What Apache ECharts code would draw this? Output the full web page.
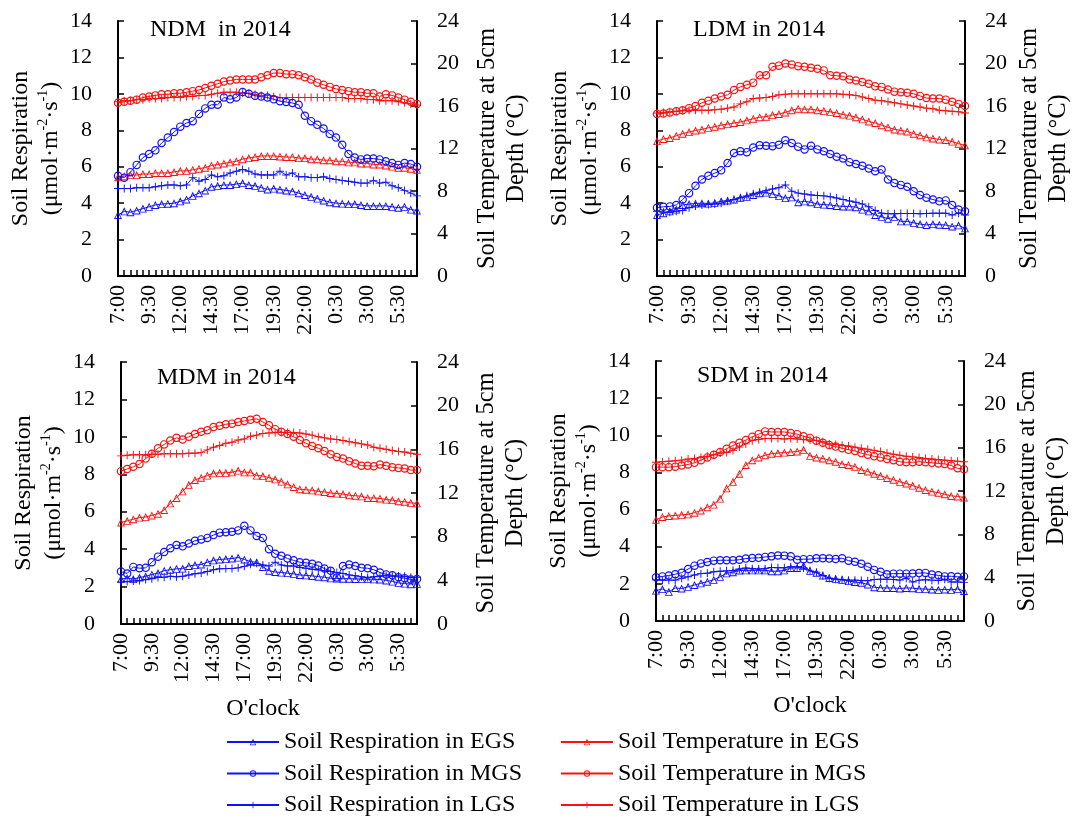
<!DOCTYPE html>
<html><head><meta charset="utf-8">
<script src="https://cdn.jsdelivr.net/npm/echarts@6/dist/echarts.min.js"></script>
<style>html,body{margin:0;padding:0;background:#fff}#c{width:1078px;height:819px}</style>
</head><body><div id="c"></div>
<script>
// ---- categories (half-hourly, 7:00 to 7:00 next day) ----
const times = ['7:00','7:30','8:00','8:30','9:00','9:30','10:00','10:30','11:00','11:30','12:00','12:30','13:00','13:30','14:00','14:30','15:00','15:30','16:00','16:30','17:00','17:30','18:00','18:30','19:00','19:30','20:00','20:30','21:00','21:30','22:00','22:30','23:00','23:30','0:00','0:30','1:00','1:30','2:00','2:30','3:00','3:30','4:00','4:30','5:00','5:30','6:00','6:30','7:00'];
const respTicks = [0,2,4,6,8,10,12,14];
const tempTicks = [0,4,8,12,16,20,24];
const panelTitles = ['NDM  in 2014','LDM in 2014','MDM in 2014','SDM in 2014'];
const seriesNames = ['Soil Respiration in EGS','Soil Respiration in MGS','Soil Respiration in LGS','Soil Temperature in EGS','Soil Temperature in MGS','Soil Temperature in LGS'];

// ---- NDM ----
const ndmRespEGS = [3.35,3.55,3.5,3.6,3.7,3.8,3.9,3.95,3.97,4.0,4.1,4.2,4.4,4.55,4.7,4.9,4.95,5.0,5.0,5.05,5.1,5.0,4.95,4.85,4.75,4.8,4.75,4.7,4.65,4.55,4.45,4.35,4.25,4.15,4.05,4.0,3.98,3.95,3.95,3.9,3.85,3.85,3.85,3.85,3.8,3.75,3.8,3.65,3.6];
const ndmRespMGS = [5.5,5.4,5.7,6.1,6.5,6.7,6.9,7.3,7.6,7.9,8.2,8.4,8.5,8.9,9.2,9.4,9.4,9.8,9.7,9.8,10.1,10.0,9.9,9.85,9.8,9.7,9.6,9.55,9.5,9.4,8.8,8.5,8.3,8.1,7.8,7.6,7.2,6.7,6.5,6.4,6.45,6.45,6.4,6.3,6.2,6.1,6.2,6.15,6.0];
const ndmRespLGS = [4.8,4.8,4.8,4.85,4.85,4.85,4.9,4.95,5.0,5.0,4.95,5.0,5.4,5.2,5.3,5.55,5.45,5.5,5.65,5.75,5.85,5.75,5.6,5.55,5.55,5.55,5.75,5.55,5.65,5.45,5.45,5.4,5.4,5.45,5.35,5.3,5.25,5.2,5.15,5.1,5.1,5.25,5.1,5.15,4.95,4.85,4.7,4.55,4.4];
const ndmTempEGS = [9.3,9.4,9.5,9.5,9.6,9.6,9.7,9.7,9.7,9.8,9.9,9.9,10.0,10.1,10.2,10.4,10.5,10.6,10.7,10.8,11.0,11.1,11.2,11.3,11.3,11.3,11.25,11.2,11.2,11.1,11.1,11.0,11.0,10.9,10.9,10.8,10.8,10.7,10.7,10.6,10.6,10.5,10.5,10.4,10.3,10.2,10.2,10.1,10.0];
const ndmTempMGS = [16.3,16.4,16.5,16.6,16.8,16.9,17.0,17.1,17.1,17.2,17.2,17.3,17.4,17.5,17.7,17.9,18.1,18.3,18.4,18.5,18.5,18.5,18.5,18.7,18.9,19.1,19.1,19.0,19.0,18.9,18.7,18.5,18.2,18.0,17.8,17.6,17.5,17.4,17.3,17.3,17.2,17.2,16.9,17.1,17.0,16.8,16.6,16.4,16.2];
const ndmTempLGS = [16.4,16.5,16.5,16.6,16.6,16.7,16.7,16.7,16.8,16.8,16.8,16.9,16.9,17.0,17.0,17.1,17.2,17.3,17.3,17.3,17.2,17.2,17.1,17.0,17.0,16.9,16.8,16.8,16.8,16.8,16.8,16.8,16.8,16.8,16.8,16.8,16.8,16.7,16.7,16.7,16.6,16.6,16.5,16.5,16.5,16.4,16.3,16.2,16.1];

// ---- LDM ----
const ldmRespEGS = [3.35,3.45,3.55,3.65,3.9,3.95,3.98,4.0,3.98,4.02,4.1,4.15,4.2,4.3,4.35,4.45,4.55,4.58,4.5,4.4,4.28,4.32,4.05,4.1,4.05,3.95,3.92,3.9,3.85,3.82,3.82,3.78,3.65,3.55,3.35,3.25,3.15,3.25,3.0,3.0,2.92,2.85,2.8,2.85,2.82,2.8,2.72,2.78,2.62];
const ldmRespMGS = [3.75,3.8,3.82,3.9,4.2,4.55,4.95,5.3,5.5,5.65,5.8,6.2,6.75,6.85,6.8,7.05,7.18,7.15,7.13,7.2,7.45,7.3,7.1,6.95,7.15,6.95,6.85,6.7,6.55,6.45,6.25,6.15,6.05,5.9,5.75,5.85,5.3,5.1,5.0,4.9,4.65,4.45,4.3,4.2,4.1,4.15,3.9,3.65,3.55];
const ldmRespLGS = [3.55,3.5,3.5,3.55,3.6,3.75,3.85,3.9,3.92,3.95,4.0,4.1,4.2,4.3,4.4,4.52,4.6,4.7,4.78,4.85,5.0,4.65,4.55,4.5,4.45,4.42,4.4,4.35,4.28,4.2,4.12,4.05,3.95,3.8,3.6,3.45,3.42,3.42,3.43,3.43,3.43,3.42,3.43,3.45,3.45,3.45,3.35,3.45,3.35];
const ldmTempEGS = [12.7,12.9,13.0,13.2,13.4,13.55,13.7,13.8,13.95,14.05,14.2,14.3,14.4,14.5,14.65,14.8,14.95,15.0,15.15,15.25,15.4,15.6,15.75,15.7,15.7,15.6,15.55,15.45,15.35,15.2,15.1,14.95,14.75,14.55,14.4,14.2,14.0,13.8,13.7,13.6,13.4,13.25,13.05,12.95,12.85,12.8,12.65,12.45,12.3];
const ldmTempMGS = [15.25,15.3,15.4,15.5,15.6,15.8,16.0,16.3,16.5,16.7,16.9,17.05,17.5,17.8,18.0,18.2,18.9,18.9,19.7,19.8,20.0,19.9,19.75,19.7,19.6,19.5,19.35,18.9,18.85,18.8,18.5,18.4,18.25,18.1,17.85,17.8,17.55,17.35,17.3,17.25,17.15,16.95,16.75,16.7,16.7,16.6,16.4,16.2,16.0];
const ldmTempLGS = [15.35,15.4,15.45,15.5,15.55,15.6,15.6,15.6,15.6,15.65,15.7,15.8,15.9,16.2,16.4,16.7,16.75,16.8,16.9,17.05,17.1,17.15,17.15,17.15,17.15,17.15,17.15,17.15,17.15,17.1,17.05,17.0,16.85,16.7,16.55,16.5,16.4,16.3,16.2,16.1,16.0,15.9,15.8,15.75,15.6,15.55,15.5,15.45,15.35];

// ---- MDM ----
const mdmRespEGS = [2.4,2.45,2.4,2.48,2.55,2.65,2.72,2.85,2.9,2.95,2.96,3.1,3.15,3.18,3.3,3.4,3.45,3.47,3.5,3.55,3.45,3.33,3.3,3.05,2.85,2.78,2.75,2.72,2.68,2.62,2.6,2.57,2.53,2.5,2.44,2.43,2.42,2.42,2.41,2.4,2.4,2.39,2.38,2.33,2.27,2.2,2.16,2.13,2.15];
const mdmRespMGS = [2.8,2.7,3.05,2.98,3.0,3.3,3.6,3.85,4.05,4.22,4.15,4.3,4.45,4.52,4.6,4.75,4.88,4.9,4.93,5.0,5.25,5.0,4.7,4.6,4.0,3.75,3.65,3.5,3.4,3.3,3.27,3.22,3.12,2.96,2.84,2.48,3.1,3.18,3.1,3.0,2.98,2.9,2.75,2.65,2.6,2.5,2.45,2.38,2.4];
const mdmRespLGS = [2.25,2.27,2.3,2.32,2.38,2.42,2.48,2.5,2.55,2.52,2.55,2.62,2.68,2.72,2.8,2.9,2.95,2.96,2.96,3.0,3.08,3.19,3.24,3.15,3.1,3.3,3.15,3.1,3.1,3.02,2.98,2.93,2.89,2.84,2.8,2.75,2.7,2.62,2.58,2.52,2.48,2.52,2.55,2.58,2.55,2.57,2.55,2.48,2.5];
const mdmTempEGS = [9.3,9.45,9.6,9.75,9.8,9.95,10.1,10.45,11.05,11.55,12.15,12.75,13.2,13.4,13.6,13.8,13.85,13.85,13.9,14.05,13.9,13.9,13.6,13.55,13.4,13.25,13.05,12.8,12.55,12.35,12.3,12.25,12.15,12.1,12.0,11.95,11.9,11.8,11.75,11.7,11.55,11.55,11.5,11.4,11.35,11.25,11.2,11.1,11.05];
const mdmTempMGS = [14.0,14.2,14.4,14.65,15.15,15.6,16.1,16.45,16.8,17.05,16.9,17.15,17.4,17.6,17.75,18.05,18.15,18.3,18.35,18.5,18.6,18.7,18.8,18.5,18.2,17.85,17.6,17.4,17.15,16.85,16.55,16.3,16.1,15.85,15.55,15.3,15.15,14.9,14.7,14.5,14.5,14.45,14.6,14.5,14.35,14.3,14.25,14.1,14.1];
const mdmTempLGS = [15.4,15.45,15.5,15.5,15.5,15.55,15.55,15.6,15.6,15.6,15.6,15.65,15.65,15.7,15.95,16.2,16.35,16.55,16.65,16.85,16.95,17.2,17.3,17.45,17.5,17.55,17.55,17.55,17.55,17.5,17.4,17.3,17.15,17.05,16.95,16.9,16.8,16.7,16.6,16.5,16.4,16.2,16.1,16.0,15.9,15.8,15.75,15.65,15.55];

// ---- SDM ----
const sdmRespEGS = [1.64,1.72,1.57,1.78,1.75,1.84,1.94,2.03,2.12,2.22,2.38,2.57,2.63,2.72,2.73,2.73,2.73,2.73,2.68,2.68,2.73,2.86,2.86,2.98,2.7,2.6,2.45,2.32,2.27,2.22,2.15,2.1,2.06,1.97,1.82,1.79,1.78,1.78,1.75,1.78,1.77,1.73,1.72,1.7,1.68,1.7,1.68,1.72,1.62];
const sdmRespMGS = [2.35,2.4,2.45,2.52,2.6,2.8,2.98,3.1,3.18,3.25,3.27,3.27,3.27,3.3,3.36,3.39,3.4,3.45,3.48,3.53,3.52,3.48,3.3,3.33,3.33,3.38,3.38,3.36,3.34,3.38,3.25,3.19,3.08,2.92,2.75,2.65,2.52,2.55,2.55,2.55,2.56,2.58,2.59,2.5,2.46,2.4,2.41,2.38,2.4];
const sdmRespLGS = [2.22,2.2,2.2,2.2,2.3,2.38,2.48,2.55,2.57,2.65,2.68,2.7,2.72,2.8,2.85,2.82,2.8,2.82,2.88,2.87,2.87,2.92,2.92,2.85,2.7,2.62,2.45,2.3,2.25,2.22,2.2,2.2,2.18,2.17,2.23,2.25,2.25,2.23,2.2,2.3,2.1,2.2,2.22,2.2,2.18,2.25,2.1,2.1,2.08];
const sdmTempEGS = [9.35,9.6,9.7,9.75,9.8,9.85,10.0,10.2,10.5,10.75,11.3,12.25,12.85,13.6,14.4,14.85,15.1,15.3,15.45,15.5,15.55,15.6,15.65,15.8,15.25,15.1,15.0,14.85,14.7,14.5,14.4,14.25,13.95,13.8,13.6,13.4,13.2,13.05,12.85,12.7,12.5,12.3,12.1,11.95,11.85,11.7,11.55,11.5,11.4];
const sdmTempMGS = [14.2,14.2,14.2,14.25,14.35,14.45,14.6,14.85,15.1,15.35,15.6,15.9,16.2,16.45,16.7,17.0,17.25,17.5,17.45,17.45,17.45,17.35,17.25,17.05,16.9,16.65,16.45,16.25,16.1,15.95,15.8,15.7,15.5,15.35,15.2,15.1,14.95,14.85,14.7,14.65,14.65,14.7,14.65,14.6,14.55,14.5,14.35,14.1,14.0];
const sdmTempLGS = [14.65,14.7,14.75,14.8,14.85,14.95,15.0,15.1,15.2,15.35,15.5,15.55,15.75,16.05,16.35,16.65,16.75,16.85,16.85,16.85,16.8,16.85,16.8,16.75,16.7,16.65,16.55,16.35,16.3,16.2,16.15,16.05,15.95,15.85,15.75,15.65,15.5,15.4,15.3,15.2,15.15,15.1,15.0,14.95,14.9,14.85,14.8,14.75,14.7];

// ---------------------------------------------------------------
const FONT = 'Liberation Serif';
const BLUE = '#1010ff', RED = '#ff1010';
const SYM_TRI = 'path://M5,0L10,10L0,10Z M5,2.6L1.7,8.9L8.3,8.9Z';
const SYM_CIR = 'path://M0,5A5,5,0,1,1,10,5A5,5,0,1,1,0,5Z M1.4,5A3.6,3.6,0,1,0,8.6,5A3.6,3.6,0,1,0,1.4,5Z';
const SYM_PLUS = 'path://M4.4,0H5.6V4.4H10V5.6H5.6V10H4.4V5.6H0V4.4H4.4Z';

const panelData = [
  [ndmRespEGS, ndmRespMGS, ndmRespLGS, ndmTempEGS, ndmTempMGS, ndmTempLGS],
  [ldmRespEGS, ldmRespMGS, ldmRespLGS, ldmTempEGS, ldmTempMGS, ldmTempLGS],
  [mdmRespEGS, mdmRespMGS, mdmRespLGS, mdmTempEGS, mdmTempMGS, mdmTempLGS],
  [sdmRespEGS, sdmRespMGS, sdmRespLGS, sdmTempEGS, sdmTempMGS, sdmTempLGS]
];
const layout = [
  {grid:{left:118, top:21, width:299, height:255}, title:{left:150, top:18}, lg:49, rg:56, xname:false, xpad:0},
  {grid:{left:657, top:21, width:308, height:255}, title:{left:693, top:18}, lg:52, rg:50, xname:false, xpad:0},
  {grid:{left:121, top:362, width:296, height:262}, title:{left:157, top:366}, lg:48, rg:55, xname:true, xpad:12},
  {grid:{left:656, top:361, width:308, height:260}, title:{left:697, top:364}, lg:49, rg:49, xname:true, xpad:0}
];

const axisLine = {show:true, lineStyle:{color:'#000', width:2}};
const tickStyle = {show:true, inside:true, length:6, lineStyle:{color:'#000', width:1.5}};
const labelFont = {fontFamily:FONT, fontSize:22, color:'#000'};

const grids = [], xAxes = [], yAxes = [], titles = [], series = [];
layout.forEach((L, p) => {
  grids.push(Object.assign({containLabel:false}, L.grid));
  titles.push({text:panelTitles[p], left:L.title.left, top:L.title.top, padding:0,
    textStyle:{fontFamily:FONT, fontSize:24, fontWeight:'normal', color:'#000'}});
  xAxes.push({type:'category', gridIndex:p, data:times, boundaryGap:false,
    axisLine:axisLine, axisTick:Object.assign({interval:0}, tickStyle),
    axisLabel:Object.assign({interval:4, rotate:90, margin:9}, labelFont),
    splitLine:{show:false},
    name: L.xname ? "O'clock" : '', nameLocation:'middle', nameGap:73,
    nameTextStyle:{fontFamily:FONT, fontSize:24, color:'#000', padding:[0, L.xpad, 0, 0]}});
  const nameRich = {sup:{fontFamily:FONT, fontSize:14, lineHeight:14, verticalAlign:'top', color:'#000'}};
  yAxes.push({type:'value', gridIndex:p, position:'left', min:respTicks[0], max:respTicks[respTicks.length-1],
    interval:respTicks[1]-respTicks[0],
    axisLine:axisLine, axisTick:tickStyle, splitLine:{show:false},
    axisLabel:Object.assign({margin:26}, labelFont),
    name:'Soil Respiration\n(\u03bcmol\u00b7m{sup|-2}\u00b7s{sup|-1})', nameLocation:'middle', nameRotate:90, nameGap:L.lg,
    nameTextStyle:{fontFamily:FONT, fontSize:24, lineHeight:30, color:'#000', rich:nameRich}});
  yAxes.push({type:'value', gridIndex:p, position:'right', min:tempTicks[0], max:tempTicks[tempTicks.length-1],
    interval:tempTicks[1]-tempTicks[0],
    axisLine:axisLine, axisTick:tickStyle, splitLine:{show:false},
    axisLabel:Object.assign({margin:20}, labelFont),
    name:'Soil Temperature at 5cm\nDepth (\u00b0C)', nameLocation:'middle', nameRotate:90, nameGap:L.rg,
    nameTextStyle:{fontFamily:FONT, fontSize:24.5, lineHeight:29, color:'#000'}});
  const syms = [SYM_TRI, SYM_CIR, SYM_PLUS, SYM_TRI, SYM_CIR, SYM_PLUS];
  const sizes = [8, 8.5, 8, 8, 8.5, 8];
  panelData[p].forEach((arr, k) => {
    const col = k < 3 ? BLUE : RED;
    series.push({type:'line', name:seriesNames[k], xAxisIndex:p, yAxisIndex:2*p + (k < 3 ? 0 : 1),
      data:arr, symbol:syms[k], symbolSize:sizes[k], showSymbol:true, showAllSymbol:true,
      lineStyle:{color:col, width:1}, itemStyle:{color:col}, animation:false, z: k < 3 ? 3 : 2});
  });
});

const legendText = {fontFamily:FONT, fontSize:24, lineHeight:24, color:'#000'};
const option = {
  backgroundColor:'#fff',
  animation:false,
  title:titles,
  grid:grids, xAxis:xAxes, yAxis:yAxes, series:series,
  legend:[
    {left:226, top:730, orient:'vertical', padding:0, itemWidth:52, itemHeight:8, itemGap:7.5,
      textStyle:legendText, data:seriesNames.slice(0,3)},
    {left:560, top:730, orient:'vertical', padding:0, itemWidth:52, itemHeight:8, itemGap:7.5,
      textStyle:legendText, data:seriesNames.slice(3)}
  ]
};
const chart = echarts.init(document.getElementById('c'), null, {renderer:'canvas'});
chart.setOption(option);
</script></body></html>
